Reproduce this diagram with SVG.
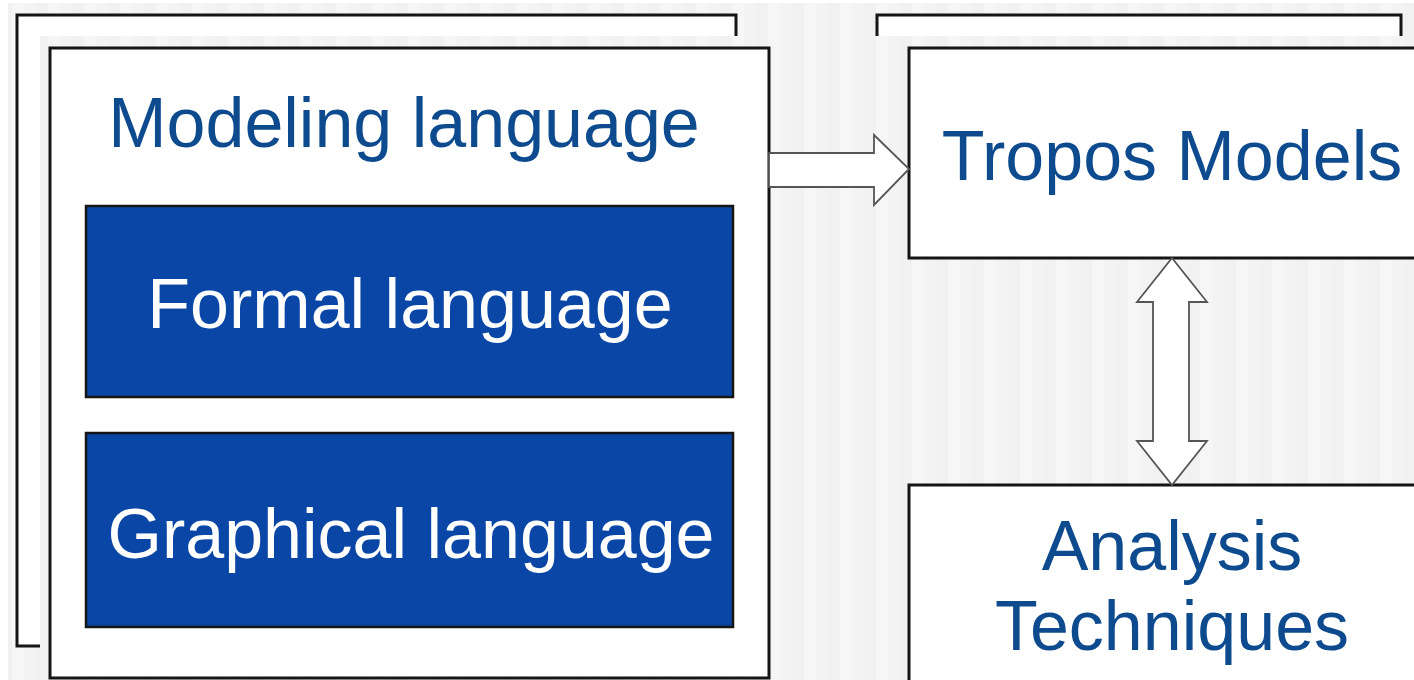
<svg xmlns="http://www.w3.org/2000/svg" width="1414" height="680" viewBox="0 0 1414 680">
  <defs>
    <pattern id="stripes" width="36" height="10" patternUnits="userSpaceOnUse">
      <rect x="0" y="0" width="12" height="10" fill="#f1f1f1"/>
      <rect x="12" y="0" width="12" height="10" fill="#f6f6f6"/>
      <rect x="24" y="0" width="12" height="10" fill="#f3f3f3"/>
    </pattern>
    <style>
      .halo { fill: url(#stripes); }
      .box { fill: #ffffff; stroke: #151515; stroke-width: 3; }
      .sub { fill: #0a46a6; stroke: #151515; stroke-width: 2.5; }
      .label { font-family: "Liberation Sans", Arial, sans-serif; font-size: 70px; text-anchor: middle; fill: #0d4b8e; }
      .inv { fill: #ffffff; }
      .arrow { fill: #ffffff; stroke: #555555; stroke-width: 1.8; stroke-linejoin: miter; }
    </style>
  </defs>

  <!-- page -->
  <rect x="0" y="0" width="1414" height="680" fill="#ffffff"/>
  <rect x="8" y="3" width="1406" height="677" fill="url(#stripes)"/>

  <!-- left stack: back sheet -->
  <g id="modeling-back">
    <rect class="box" x="17" y="15" width="719" height="631"/>
  </g>

  <!-- left stack: front sheet with its two parts -->
  <g id="modeling-language">
    <rect class="halo" x="40" y="36" width="739" height="650"/>
    <rect class="box" x="50" y="48" width="719" height="630"/>
    <text class="label" x="404" y="147">Modeling language</text>
  </g>

  <g id="formal-language">
    <rect class="sub" x="86" y="206" width="647" height="191"/>
    <text class="label inv" x="410" y="328">Formal language</text>
  </g>

  <g id="graphical-language">
    <rect class="sub" x="86" y="433" width="647" height="194"/>
    <text class="label inv" x="411" y="558">Graphical language</text>
  </g>

  <!-- right stack: back sheet -->
  <g id="tropos-back">
    <rect class="box" x="877" y="15" width="524" height="60"/>
  </g>

  <g id="tropos-models">
    <rect class="halo" x="867" y="36" width="547" height="232"/>
    <rect class="box" x="909" y="48" width="530" height="210"/>
    <text class="label" x="1172" y="180">Tropos Models</text>
  </g>

  <g id="analysis-techniques">
    <rect class="halo" x="899" y="475" width="515" height="205"/>
    <rect class="box" x="909" y="485" width="530" height="210"/>
    <text class="label" x="1172" y="570">Analysis</text>
    <text class="label" x="1172" y="650">Techniques</text>
  </g>

  <!-- block arrows -->
  <g id="connectors">
    <polygon class="arrow" points="769,153 874,153 874,135 909,169 874,205 874,187 769,187"/>
    <polygon class="arrow" points="1172,258 1207,302 1189,302 1189,441 1207,441 1172,485 1137,441 1153,441 1153,302 1137,302"/>
  </g>
</svg>
